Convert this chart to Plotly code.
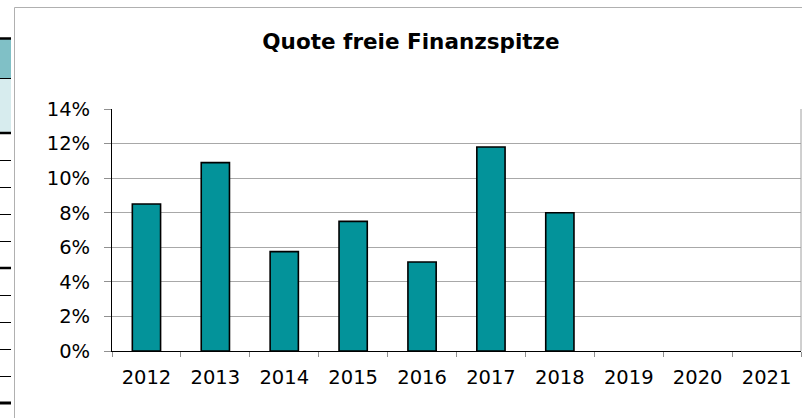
import plotly.graph_objects as go

# data
years = ['2012', '2013', '2014', '2015', '2016', '2017', '2018', '2019', '2020', '2021']
quote = [0.085, 0.109, 0.0575, 0.075, 0.0515, 0.118, 0.080, None, None, None]
y_ticks = [0, 0.02, 0.04, 0.06, 0.08, 0.10, 0.12, 0.14]

W, H = 802, 418
L, R, T, B = 112, 1, 109, 67
PW, PH = W - L - R, H - T - B


def px(x):
    # pixel column -> paper x
    return (x - L) / PW


def py(y):
    # pixel row -> paper y
    return (H - B - y) / PH


fig = go.Figure()

fig.add_trace(go.Bar(
    x=years,
    y=quote,
    width=0.41,
    marker=dict(color='#03939a', line=dict(color='black', width=1.6)),
    showlegend=False
))

shapes = []

# outer chart frame (light grey), left and top edge
shapes.append(dict(type='line', xref='paper', yref='paper',
                   x0=px(14.5), x1=px(W + 5), y0=py(7.5), y1=py(7.5),
                   line=dict(color='#b0b0b0', width=1)))
shapes.append(dict(type='line', xref='paper', yref='paper',
                   x0=px(14.5), x1=px(14.5), y0=py(7.5), y1=py(H + 5),
                   line=dict(color='#b0b0b0', width=1)))

# right border of the plot area
shapes.append(dict(type='line', xref='paper', yref='paper',
                   x0=1, x1=1, y0=0, y1=1,
                   line=dict(color='#a0a0a0', width=1)))

# spreadsheet leftovers at the left edge
shapes.append(dict(type='rect', xref='paper', yref='paper',
                   x0=px(-2), x1=px(11), y0=py(39), y1=py(78),
                   fillcolor='#80c0c6', line=dict(width=0), layer='below'))
shapes.append(dict(type='rect', xref='paper', yref='paper',
                   x0=px(-2), x1=px(11), y0=py(79), y1=py(133),
                   fillcolor='#d7ecee', line=dict(width=0), layer='below'))
for yy, w in [(38.5, 2.5), (78.5, 1), (133, 2.5), (160.5, 1), (187.5, 1),
              (214.5, 1), (241.5, 1), (268, 2.5), (295.5, 1), (322.5, 1),
              (349.5, 1), (376.5, 1), (403, 3)]:
    shapes.append(dict(type='line', xref='paper', yref='paper',
                       x0=px(-2), x1=px(11), y0=py(yy), y1=py(yy),
                       line=dict(color='black', width=w)))

fig.update_layout(
    width=W, height=H,
    margin=dict(l=L, r=R, t=T, b=B),
    paper_bgcolor='white',
    plot_bgcolor='white',
    font=dict(family='DejaVu Sans, Arial, sans-serif', color='black', size=19.5),
    title=dict(text='<b>Quote freie Finanzspitze</b>',
               x=px(411), xanchor='center', xref='paper',
               y=1 - 41 / H, yanchor='middle',
               font=dict(size=21.5, color='black')),
    bargap=0.59,
    shapes=shapes,
    xaxis=dict(
        type='category',
        categoryorder='array', categoryarray=years,
        range=[-0.5, 9.5],
        tickson='boundaries',
        ticks='outside', ticklen=5, tickcolor='#909090',
        showline=True, linecolor='black', linewidth=1,
        showgrid=False,
        ticklabelstandoff=9,
    ),
    yaxis=dict(
        range=[0, 0.14],
        tickvals=y_ticks,
        tickformat='.0%',
        ticks='outside', ticklen=7, tickcolor='#909090',
        showline=True, linecolor='black', linewidth=1,
        showgrid=True, gridcolor='#a8a8a8', gridwidth=1,
        zeroline=False,
        ticklabelstandoff=10,
    ),
)

# the page body has a default 8px margin; drop it so the figure fills the window
fig.write_html("out.html", config={'displayModeBar': False},
               post_script="document.body.style.margin='0';")
